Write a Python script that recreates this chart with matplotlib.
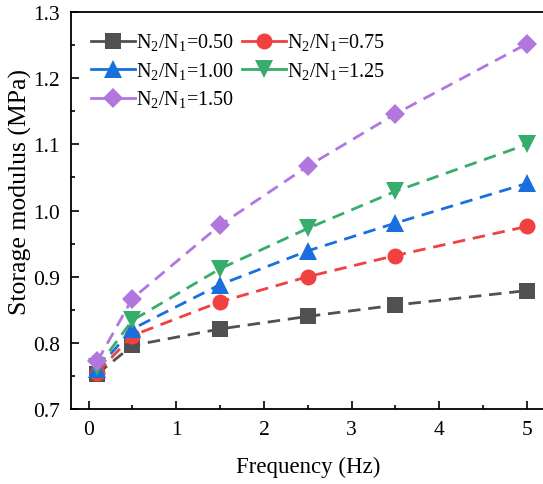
import numpy as np
import matplotlib
matplotlib.use("Agg")
import matplotlib.pyplot as plt
from matplotlib.lines import Line2D

plt.rcParams["font.family"] = ["Liberation Serif", "DejaVu Serif"]
plt.rcParams["mathtext.fontset"] = "custom"
plt.rcParams["mathtext.rm"] = "Liberation Serif"

freq = [0.1, 0.5, 1.5, 2.5, 3.5, 5.0]
ratios = ["0.50", "0.75", "1.00", "1.25", "1.50"]
modulus = [
    [0.753, 0.796, 0.821, 0.840, 0.857, 0.879],
    [0.755, 0.811, 0.862, 0.900, 0.932, 0.976],
    [0.760, 0.821, 0.888, 0.939, 0.981, 1.041],
    [0.763, 0.834, 0.912, 0.973, 1.029, 1.100],
    [0.772, 0.867, 0.978, 1.067, 1.146, 1.252],
]
colors = ["#515151", "#F14040", "#1A6FDF", "#37AD6B", "#B177DE"]
markers = ["s", "o", "^", "v", "D"]
sizes = [11, 11.5, 13.5, 13.5, 10.5]

fig = plt.figure(figsize=(5.43, 4.85), dpi=100)
ax = fig.add_axes([0.1308, 0.1546, 0.872, 0.8186])

handles = []
for ratio, y, c, m, s in zip(ratios, modulus, colors, markers, sizes):
    ax.plot(freq, y, ls="--", lw=2.0, dashes=(4.5, 2.8), color=c,
            marker=m, ms=s, mew=0)
    handles.append(Line2D([], [], color=c, lw=2.0, marker=m, ms=s, mew=0,
                          label=r"N$_\mathregular{2}$/N$_\mathregular{1}$=" + ratio))

ax.set_xlim(-0.2, 5.2)
ax.set_ylim(0.7, 1.3)
ax.set_xticks([0, 1, 2, 3, 4, 5])
ax.set_xticks(np.arange(0.5, 5.0, 1.0), minor=True)
ax.set_yticks([0.7, 0.8, 0.9, 1.0, 1.1, 1.2, 1.3])
ax.set_yticks(np.arange(0.75, 1.3, 0.1), minor=True)
ax.yaxis.set_major_formatter(matplotlib.ticker.FormatStrFormatter("%.1f"))
ax.tick_params(which="both", direction="in", labelsize=15.5, width=1.2)
ax.tick_params(which="major", length=6, pad=8)
ax.tick_params(which="minor", length=3)
for sp in ax.spines.values():
    sp.set_linewidth(1.3)

ax.set_xlabel("Frequency (Hz)", fontsize=16.5, labelpad=12)
ax.set_ylabel("Storage modulus (MPa)", fontsize=18.5, labelpad=1)
ax.yaxis.label.set_y(0.55)

# row-wise legend order like the original
order = [0, 2, 4, 1, 3]
ax.legend([handles[i] for i in order], [handles[i].get_label() for i in order],
          loc="upper left", ncol=2, frameon=False, fontsize=14.5,
          handlelength=2.2, handletextpad=0.05, columnspacing=0.35,
          labelspacing=0.35, borderaxespad=0.6)

fig.savefig("out.png", dpi=100)
